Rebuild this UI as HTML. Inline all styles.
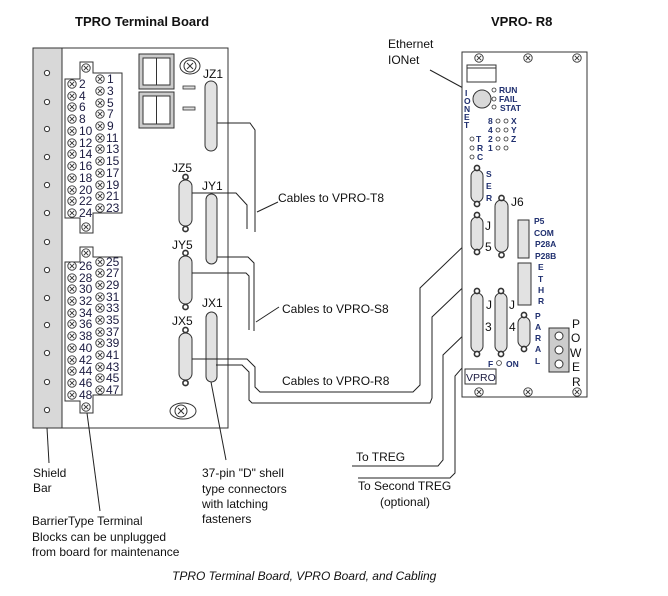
<!DOCTYPE html>
<html><head><meta charset="utf-8"><style>
html,body{margin:0;padding:0;background:#fff;}
svg{display:block;font-family:"Liberation Sans",Arial,sans-serif;}
.n{font-size:12px;fill:#1b1b40}
.s{font-size:8.5px;fill:#1f2f6f;font-weight:bold}
.t{font-size:12px;fill:#111}
</style></head><body>
<svg width="668" height="596" viewBox="0 0 668 596" xmlns="http://www.w3.org/2000/svg">
<defs>
<g id="cx"><circle r="4.2" fill="#fff" stroke="#333" stroke-width="0.9"/><path d="M-2.2,-2.2L2.2,2.2M2.2,-2.2L-2.2,2.2" stroke="#333" stroke-width="0.9"/></g>
<g id="sc"><circle r="6" fill="#fff" stroke="#333" stroke-width="1"/><path d="M-3,-3L3,3M3,-3L-3,3" stroke="#333" stroke-width="1"/></g>
<g id="hole"><circle r="2.6" fill="#fff" stroke="#333" stroke-width="1.6"/></g>
</defs>
<!-- titles -->
<text x="75" y="26" font-size="13" font-weight="bold" fill="#111">TPRO Terminal Board</text>
<text x="491" y="26" font-size="13" font-weight="bold" fill="#111">VPRO- R8</text>

<!-- TPRO board -->
<rect x="33" y="48" width="195" height="380" fill="#fff" stroke="#333" stroke-width="1"/>
<rect x="33" y="48" width="29" height="380" fill="#d8d8d8" stroke="#333" stroke-width="1"/>
<g fill="#fff" stroke="#333" stroke-width="1">
<circle cx="47" cy="73" r="2.6"/><circle cx="47" cy="102" r="2.6"/><circle cx="47" cy="129" r="2.6"/><circle cx="47" cy="157" r="2.6"/><circle cx="47" cy="185" r="2.6"/><circle cx="47" cy="213" r="2.6"/><circle cx="47" cy="242" r="2.6"/><circle cx="47" cy="270" r="2.6"/><circle cx="47" cy="298" r="2.6"/><circle cx="47" cy="325" r="2.6"/><circle cx="47" cy="353" r="2.6"/><circle cx="47" cy="382" r="2.6"/><circle cx="47" cy="410" r="2.6"/>
</g>
<!-- terminal block 1 -->
<path d="M80,62H93V73H122V213H93V218H93V233H80V218H65V79H80Z" fill="#fff" stroke="#333" stroke-width="1"/>
<g>
<use href="#cx" x="86" y="68"/><use href="#cx" x="86" y="227"/>
<use href="#cx" x="72" y="84"/><use href="#cx" x="72" y="96"/><use href="#cx" x="72" y="107"/><use href="#cx" x="72" y="119"/><use href="#cx" x="72" y="131"/><use href="#cx" x="72" y="143"/><use href="#cx" x="72" y="154"/><use href="#cx" x="72" y="166"/><use href="#cx" x="72" y="178"/><use href="#cx" x="72" y="190"/><use href="#cx" x="72" y="201"/><use href="#cx" x="72" y="213"/>
<use href="#cx" x="100" y="79"/><use href="#cx" x="100" y="91"/><use href="#cx" x="100" y="103"/><use href="#cx" x="100" y="114"/><use href="#cx" x="100" y="126"/><use href="#cx" x="100" y="138"/><use href="#cx" x="100" y="149"/><use href="#cx" x="100" y="161"/><use href="#cx" x="100" y="173"/><use href="#cx" x="100" y="185"/><use href="#cx" x="100" y="196"/><use href="#cx" x="100" y="208"/>
</g>
<g class="n">
<text x="79" y="88">2</text><text x="79" y="100">4</text><text x="79" y="111">6</text><text x="79" y="123">8</text><text x="79" y="135">10</text><text x="79" y="147">12</text><text x="79" y="158">14</text><text x="79" y="170">16</text><text x="79" y="182">18</text><text x="79" y="194">20</text><text x="79" y="205">22</text><text x="79" y="217">24</text>
<text x="107" y="83">1</text><text x="107" y="95">3</text><text x="107" y="107">5</text><text x="107" y="118">7</text><text x="107" y="130">9</text><text x="106" y="142">11</text><text x="106" y="153">13</text><text x="106" y="165">15</text><text x="106" y="177">17</text><text x="106" y="189">19</text><text x="106" y="200">21</text><text x="106" y="212">23</text>
</g>
<!-- terminal block 2 -->
<path d="M80,247H93V257H122V395H93V401H93V413H80V401H65V262H80Z" fill="#fff" stroke="#333" stroke-width="1"/>
<g>
<use href="#cx" x="86" y="253"/><use href="#cx" x="86" y="407"/>
<use href="#cx" x="72" y="266"/><use href="#cx" x="72" y="278"/><use href="#cx" x="72" y="289"/><use href="#cx" x="72" y="301"/><use href="#cx" x="72" y="313"/><use href="#cx" x="72" y="324"/><use href="#cx" x="72" y="336"/><use href="#cx" x="72" y="348"/><use href="#cx" x="72" y="360"/><use href="#cx" x="72" y="371"/><use href="#cx" x="72" y="383"/><use href="#cx" x="72" y="395"/>
<use href="#cx" x="100" y="262"/><use href="#cx" x="100" y="273"/><use href="#cx" x="100" y="285"/><use href="#cx" x="100" y="297"/><use href="#cx" x="100" y="308"/><use href="#cx" x="100" y="320"/><use href="#cx" x="100" y="332"/><use href="#cx" x="100" y="343"/><use href="#cx" x="100" y="355"/><use href="#cx" x="100" y="367"/><use href="#cx" x="100" y="378"/><use href="#cx" x="100" y="390"/>
</g>
<g class="n">
<text x="79" y="270">26</text><text x="79" y="282">28</text><text x="79" y="293">30</text><text x="79" y="305">32</text><text x="79" y="317">34</text><text x="79" y="328">36</text><text x="79" y="340">38</text><text x="79" y="352">40</text><text x="79" y="364">42</text><text x="79" y="375">44</text><text x="79" y="387">46</text><text x="79" y="399">48</text>
<text x="106" y="266">25</text><text x="106" y="277">27</text><text x="106" y="289">29</text><text x="106" y="301">31</text><text x="106" y="312">33</text><text x="106" y="324">35</text><text x="106" y="336">37</text><text x="106" y="347">39</text><text x="106" y="359">41</text><text x="106" y="371">43</text><text x="106" y="382">45</text><text x="106" y="394">47</text>
</g>
<!-- top squares -->
<g stroke="#333" stroke-width="1">
<rect x="139" y="54" width="35" height="35" fill="#ccc"/><rect x="143" y="58" width="27" height="27" fill="#fff"/><line x1="156.5" y1="58" x2="156.5" y2="85"/>
<rect x="139" y="92" width="35" height="36" fill="#ccc"/><rect x="143" y="96" width="27" height="28" fill="#fff"/><line x1="156.5" y1="96" x2="156.5" y2="124"/>
</g>
<ellipse cx="190" cy="66" rx="10" ry="8" fill="#fff" stroke="#333"/><use href="#sc" x="190" y="66"/>
<rect x="183" y="86" width="12" height="3" fill="#ddd" stroke="#333" stroke-width="0.8"/>
<rect x="183" y="107" width="12" height="3" fill="#ddd" stroke="#333" stroke-width="0.8"/>
<ellipse cx="183" cy="411" rx="13" ry="8" fill="#fff" stroke="#333"/><use href="#sc" x="181" y="411"/>

<!-- TPRO connectors -->
<g fill="#e2e2e2" stroke="#333" stroke-width="1">
<rect x="205" y="81" width="12" height="70" rx="6"/>
<rect x="206" y="194" width="11" height="70" rx="5.5"/>
<rect x="206" y="312" width="11" height="70" rx="5.5"/>
<rect x="179" y="180" width="13" height="46" rx="6.5"/>
<rect x="179" y="256" width="13" height="48" rx="6.5"/>
<rect x="179" y="333" width="13" height="47" rx="6.5"/>
</g>
<use href="#hole" x="185.5" y="177"/><use href="#hole" x="185.5" y="229"/>
<use href="#hole" x="185.5" y="253"/><use href="#hole" x="185.5" y="307"/>
<use href="#hole" x="185.5" y="330"/><use href="#hole" x="185.5" y="383"/>
<g class="t">
<text x="203" y="78">JZ1</text><text x="172" y="172">JZ5</text><text x="202" y="190">JY1</text>
<text x="172" y="249">JY5</text><text x="202" y="307">JX1</text><text x="172" y="325">JX5</text>
</g>

<!-- cables -->
<g fill="none" stroke="#222" stroke-width="1">
<path d="M217,123H250L255,130V232"/>
<path d="M192,193H236L247,205V229"/>
<path d="M217,257H248L254,263V331"/>
<path d="M192,273H246L249,276V330"/>
<path d="M257,212L278,202"/>
<path d="M256,322L279,307"/>
<path d="M192,359H247L255,367V387L260,392H413L420,385V288L472,238"/>
<path d="M216,365H242L249,372V400L252,403H430L432,398V317L497,255"/>
<path d="M472,327L443,355V460L438,466H352"/>
<path d="M495,330L455,376V473L450,478H358"/>
<path d="M430,70L476,95"/>
<path d="M47,428L49,463"/>
<path d="M87,413L100,511"/>
<path d="M211,382L226,460"/>
</g>
<g class="t">
<text x="278" y="202">Cables to VPRO-T8</text>
<text x="282" y="313">Cables to VPRO-S8</text>
<text x="282" y="385">Cables to VPRO-R8</text>
<text x="356" y="461">To TREG</text>
<text x="358" y="490">To Second TREG</text>
<text x="380" y="506">(optional)</text>
<text x="388" y="48">Ethernet</text>
<text x="388" y="64">IONet</text>
<text x="33" y="477">Shield</text><text x="33" y="492">Bar</text>
<text x="32" y="525">BarrierType Terminal</text>
<text x="32" y="541">Blocks can be unplugged</text>
<text x="32" y="556">from board for maintenance</text>
<text x="202" y="477">37-pin "D" shell</text>
<text x="202" y="493">type connectors</text>
<text x="202" y="508">with latching</text>
<text x="202" y="523">fasteners</text>
</g>
<text x="172" y="580" font-size="12" font-style="italic" fill="#111">TPRO Terminal Board, VPRO Board, and Cabling</text>

<!-- VPRO board -->
<rect x="462" y="52" width="125" height="345" fill="#fff" stroke="#333" stroke-width="1"/>
<use href="#cx" x="479" y="58"/><use href="#cx" x="528" y="58"/><use href="#cx" x="577" y="58"/>
<use href="#cx" x="479" y="392"/><use href="#cx" x="528" y="392"/><use href="#cx" x="577" y="392"/>
<rect x="467" y="65" width="29" height="17" fill="#fff" stroke="#333"/><line x1="467" y1="68" x2="496" y2="68" stroke="#333"/>
<circle cx="482" cy="99" r="9" fill="#d8d8d8" stroke="#333"/>
<g class="s">
<text x="465" y="96">I</text><text x="464" y="104">O</text><text x="464" y="112">N</text><text x="464" y="120">E</text><text x="464" y="128">T</text>
<text x="499" y="93">RUN</text><text x="499" y="102">FAIL</text><text x="500" y="111">STAT</text>
<text x="488" y="124">8</text><text x="511" y="124">X</text>
<text x="488" y="133">4</text><text x="511" y="133">Y</text>
<text x="488" y="142">2</text><text x="511" y="142">Z</text>
<text x="488" y="151">1</text>
<text x="476" y="142">T</text><text x="477" y="151">R</text><text x="477" y="160">C</text>
<text x="486" y="177">S</text><text x="486" y="189">E</text><text x="486" y="201">R</text>
<text x="534" y="224">P5</text><text x="534" y="236">COM</text><text x="535" y="247">P28A</text><text x="535" y="259">P28B</text>
<text x="538" y="270">E</text><text x="538" y="282">T</text><text x="538" y="293">H</text><text x="538" y="304">R</text>
<text x="535" y="319">P</text><text x="535" y="330">A</text><text x="535" y="341">R</text><text x="535" y="352">A</text><text x="535" y="364">L</text>
<text x="488" y="367">F</text><text x="506" y="367">ON</text>
</g>
<g fill="#fff" stroke="#333" stroke-width="0.8">
<circle cx="494" cy="90" r="2"/><circle cx="494" cy="99" r="2"/><circle cx="494" cy="107" r="2"/>
<circle cx="498" cy="121" r="2"/><circle cx="506" cy="121" r="2"/>
<circle cx="498" cy="130" r="2"/><circle cx="506" cy="130" r="2"/>
<circle cx="498" cy="139" r="2"/><circle cx="506" cy="139" r="2"/>
<circle cx="498" cy="148" r="2"/><circle cx="506" cy="148" r="2"/>
<circle cx="472" cy="139" r="2"/><circle cx="472" cy="148" r="2"/><circle cx="472" cy="157" r="2"/>
<circle cx="499" cy="363" r="2.4"/>
</g>
<g fill="#e2e2e2" stroke="#333" stroke-width="1">
<rect x="471" y="170" width="12" height="32" rx="6"/>
<rect x="471" y="217" width="12" height="33" rx="6"/>
<rect x="495" y="200" width="13" height="52" rx="6.5"/>
<rect x="471" y="293" width="12" height="59" rx="6"/>
<rect x="495" y="293" width="12" height="59" rx="6"/>
<rect x="518" y="317" width="12" height="30" rx="6"/>
<rect x="518" y="220" width="11" height="38"/>
<rect x="518" y="263" width="13" height="42"/>
<rect x="549" y="328" width="20" height="44" fill="#ccc"/>
</g>
<use href="#hole" x="477" y="168"/><use href="#hole" x="477" y="204"/>
<use href="#hole" x="477" y="215"/><use href="#hole" x="477" y="252"/>
<use href="#hole" x="501.5" y="198"/><use href="#hole" x="501.5" y="255"/>
<use href="#hole" x="477" y="291"/><use href="#hole" x="477" y="354"/>
<use href="#hole" x="501" y="291"/><use href="#hole" x="501" y="354"/>
<use href="#hole" x="524" y="315"/><use href="#hole" x="524" y="349"/>
<g fill="#fff" stroke="#333"><circle cx="559" cy="336" r="4"/><circle cx="559" cy="350" r="4"/><circle cx="559" cy="364" r="4"/></g>
<g class="t">
<text x="485" y="230">J</text><text x="485" y="251">5</text>
<text x="511" y="206">J6</text>
<text x="486" y="309">J</text><text x="485" y="331">3</text>
<text x="509" y="309">J</text><text x="509" y="331">4</text>
<text x="572" y="328">P</text><text x="571" y="342">O</text><text x="570" y="357">W</text><text x="572" y="371">E</text><text x="572" y="386">R</text>
</g>
<rect x="465" y="369" width="31" height="15" fill="#fff" stroke="#333"/>
<text x="466" y="381" font-size="10.5" fill="#1b1b40">VPRO</text>
</svg>
</body></html>
